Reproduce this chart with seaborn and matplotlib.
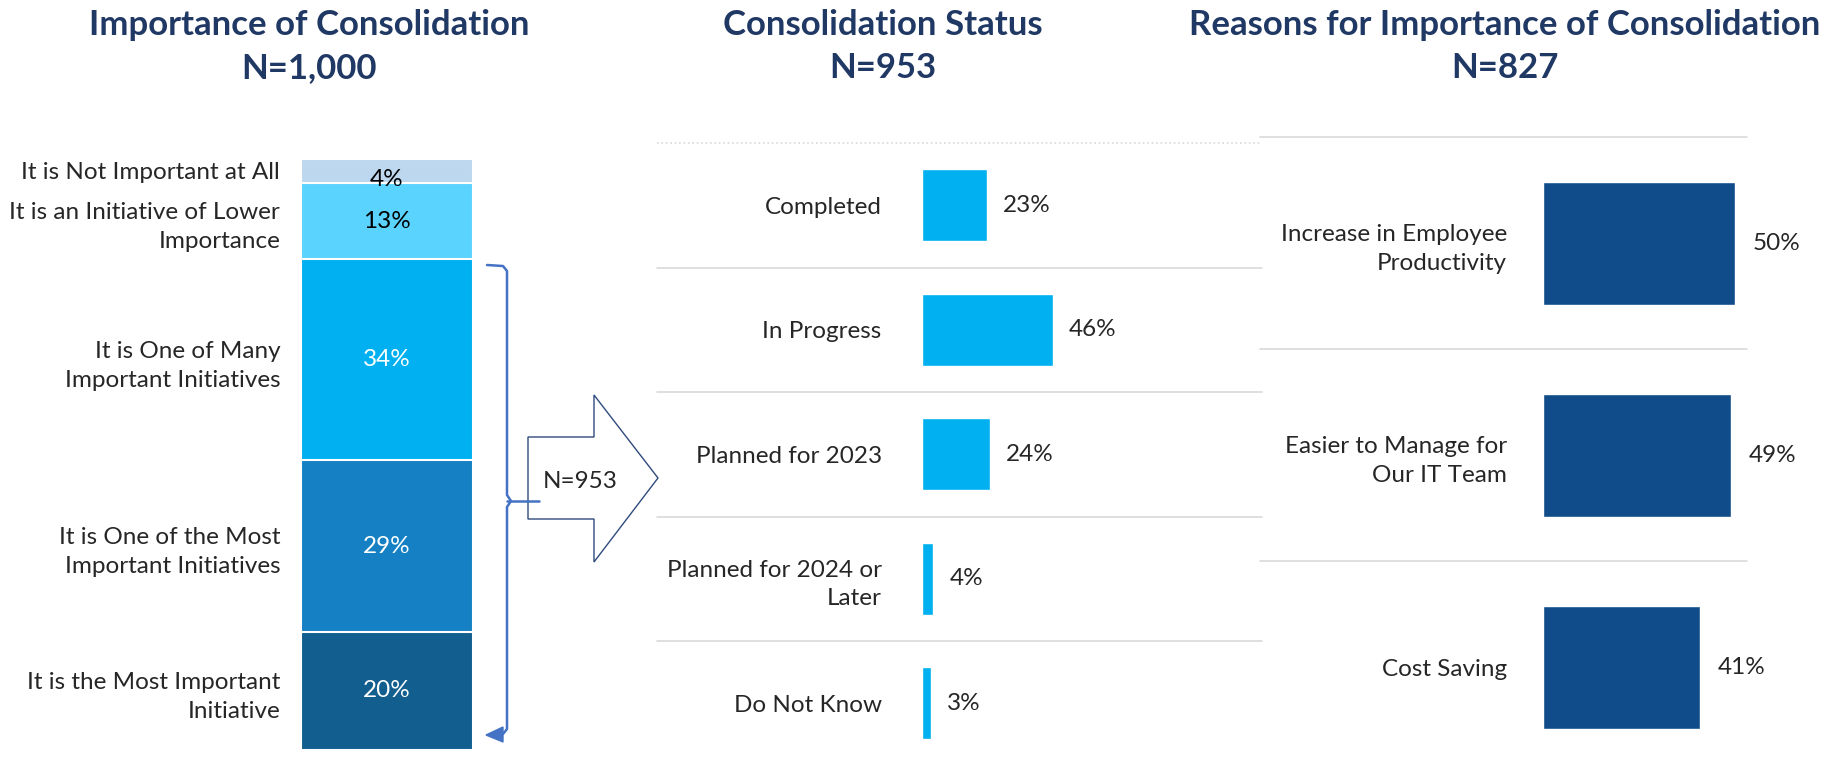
import numpy as np
import pandas as pd
import matplotlib.pyplot as plt
import seaborn as sns
from matplotlib.patches import Polygon

sns.set_style('white')
plt.rcParams['font.family'] = ['Lato', 'DejaVu Sans']

# datos del grafico
importance_labels = ["It is the Most Important\nInitiative",
                     "It is One of the Most\nImportant Initiatives",
                     "It is One of Many\nImportant Initiatives",
                     "It is an Initiative of Lower\nImportance",
                     "It is Not Important at All"]
importance_pct = [20, 29, 34, 13, 4]

status_labels = ["Completed", "In Progress", "Planned for 2023",
                 "Planned for 2024 or\nLater", "Do Not Know"]
status_pct = [23, 46, 24, 4, 3]

reason_labels = ["Increase in Employee\nProductivity",
                 "Easier to Manage for\nOur IT Team",
                 "Cost Saving"]
reason_pct = [50, 49, 41]

titles = [("Importance of Consolidation", "N=1,000"),
          ("Consolidation Status", "N=953"),
          ("Reasons for Importance of Consolidation", "N=827")]
subset_label = "N=953"

# estilos
importance_colors = ['#125E8E', '#1581C4', '#00B0F0', '#5BD3FF', '#BDD7EE']
importance_text = ['white', 'white', 'white', 'black', 'black']
status_color = '#00B0F0'
reason_color = '#104C8A'
title_color = '#203864'
grid_color = '#D9D9D9'
label_size = 17.5
title_size = 25
line_sp = 1.45

W, H = 1822, 763
fig = plt.figure(figsize=(W / 100, H / 100), dpi=100)


def px_box(x0, y0, x1, y1):
    return [x0 / W, 1 - y1 / H, (x1 - x0) / W, (y1 - y0) / H]


def clean(ax):
    sns.despine(ax=ax, left=True, bottom=True)
    ax.set_xlabel('')
    ax.set_ylabel('')
    ax.tick_params(length=0)


# --- Panel 1: barra apilada ---
ax1 = fig.add_axes(px_box(301, 159, 473, 750))
cum = np.cumsum(importance_pct)
for i in reversed(range(len(importance_pct))):
    sns.barplot(x=['all'], y=[cum[i]], color=importance_colors[i], saturation=1,
                width=1.0, edgecolor='white', linewidth=1.5, ax=ax1)
centers = cum - np.array(importance_pct) / 2
ax1.set_xlim(-0.5, 0.5)
ax1.set_ylim(0, 100)
ax1.set_xticks([])
ax1.set_yticks(centers)
ax1.set_yticklabels(importance_labels, fontsize=label_size, ha='right',
                    linespacing=line_sp)
ax1.tick_params(axis='y', pad=15)
for c, v, tc in zip(centers, importance_pct, importance_text):
    ax1.text(0, c - (1.5 if v < 5 else 0), f"{v}%", ha='center', va='center',
             color=tc, fontsize=label_size)
clean(ax1)

# --- Panel 2: estado ---
ax2 = fig.add_axes(px_box(922, 143, 1249, 765.5))
df_status = pd.DataFrame({'Status': status_labels, 'Pct': status_pct})
sns.barplot(data=df_status, x='Pct', y='Status', orient='h', color=status_color,
            saturation=1, width=0.58, ax=ax2)
ax2.set_xlim(0, 327 / 2.84)
ax2.set_ylim(4.5, -0.5)
ax2.set_xticks([])
ax2.tick_params(axis='y', pad=29)
for lab in ax2.get_yticklabels():
    lab.set_fontsize(label_size)
    lab.set_linespacing(line_sp)
for i, v in enumerate(status_pct):
    ax2.annotate(f"{v}%", (v, i), xytext=(11.5, 0), textcoords='offset points',
                 ha='left', va='center', fontsize=label_size)
x0 = (657 - 922) / 327
x1 = (1262 - 922) / 327
for k, y in enumerate(np.arange(-0.5, 4, 1.0)):
    ax2.axhline(y, xmin=x0, xmax=x1, color=grid_color, lw=1.2, clip_on=False,
                ls=':' if k == 0 else '-', zorder=0)
clean(ax2)

# --- Panel 3: razones ---
ax3 = fig.add_axes(px_box(1543, 137, 1747, 763))
df_reason = pd.DataFrame({'Reason': reason_labels, 'Pct': reason_pct})
sns.barplot(data=df_reason, x='Pct', y='Reason', orient='h', color=reason_color,
            saturation=1, width=0.58, ax=ax3)
ax3.set_xlim(0, 204 / 3.84)
ax3.set_ylim(2.45, -0.5)
ax3.set_xticks([])
ax3.tick_params(axis='y', pad=26)
for lab in ax3.get_yticklabels():
    lab.set_fontsize(label_size)
    lab.set_linespacing(line_sp)
for i, v in enumerate(reason_pct):
    ax3.annotate(f"{v}%", (v, i), xytext=(12.5, 0), textcoords='offset points',
                 ha='left', va='center', fontsize=label_size)
xr0 = (1260 - 1543) / 204
for y in [-0.5, 0.5, 1.5]:
    ax3.axhline(y, xmin=xr0, xmax=1, color=grid_color, lw=1.2, clip_on=False, zorder=0)
clean(ax3)

# --- titulos ---
for (t1, t2), xc in zip(titles, [309, 883, 1505]):
    fig.text(xc / W, 1 - 25 / H, t1, ha='center', va='center', fontsize=title_size,
             fontweight='bold', color=title_color)
    fig.text(xc / W, 1 - 68 / H, t2, ha='center', va='center', fontsize=title_size,
             fontweight='bold', color=title_color)

# --- llave y flecha ---
ov = fig.add_axes([0, 0, 1, 1], zorder=5)
ov.set_xlim(0, W)
ov.set_ylim(H, 0)
ov.axis('off')
ov.patch.set_alpha(0)
brace = '#4472C4'
ov.plot([487, 503, 507, 507, 511, 507, 507, 503, 497],
        [265, 266, 271, 495, 501, 507, 729, 734, 734], color=brace, lw=1.8,
        solid_joinstyle='round')
ov.plot([507, 539], [501, 501], color=brace, lw=1.8, zorder=6)
ov.add_patch(Polygon([[486, 735], [503, 727], [503, 742]], closed=True,
                     color=brace))
ov.add_patch(Polygon([[528, 437], [594, 437], [594, 395], [658, 478],
                      [594, 562], [594, 519], [528, 519]], closed=True,
                     facecolor='white', edgecolor='#2F4A7D', lw=1.0))
ov.text(580, 481, subset_label, ha='center', va='center', fontsize=label_size)

fig.savefig('out.png', dpi=100)
